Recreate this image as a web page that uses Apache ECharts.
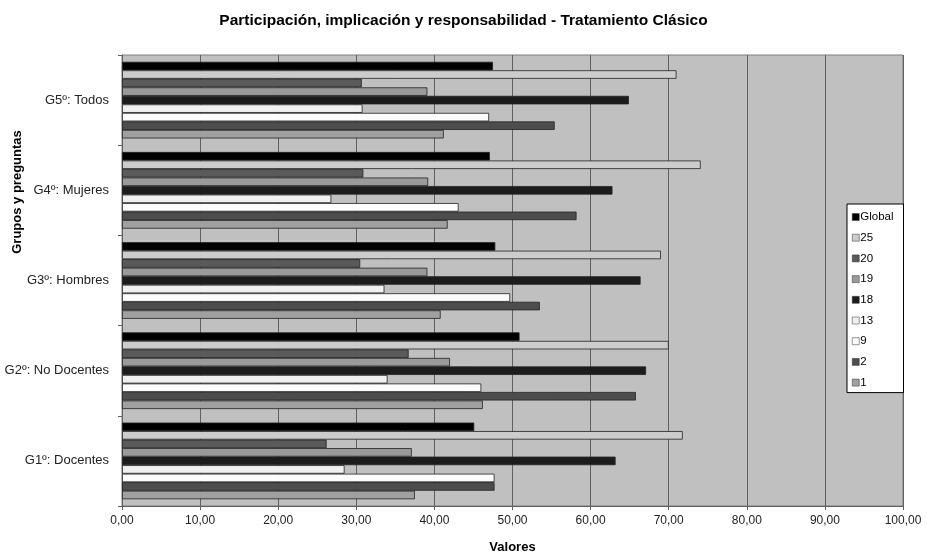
<!DOCTYPE html>
<html>
<head>
<meta charset="utf-8">
<script src="https://cdn.jsdelivr.net/npm/echarts@6/dist/echarts.min.js"></script>
<style>
html,body{margin:0;padding:0;background:#fff;}
#c{width:927px;height:555px;}
</style>
</head>
<body>
<div id="c"></div>
<script>
// Categories (bottom to top)
const categories = ['G1º: Docentes', 'G2º: No Docentes', 'G3º: Hombres', 'G4º: Mujeres', 'G5º: Todos'];
// Series values per category (G1..G5)
const sGlobal = [45.1, 50.9, 47.8, 47.1, 47.5];
const s25 = [71.8, 70.0, 69.0, 74.1, 71.0];
const s20 = [26.2, 36.7, 30.5, 30.9, 30.7];
const s19 = [37.1, 42.0, 39.1, 39.2, 39.1];
const s18 = [63.2, 67.1, 66.4, 62.8, 64.9];
const s13 = [28.5, 34.0, 33.6, 26.8, 30.8];
const s9 = [47.7, 46.0, 49.7, 43.1, 47.0];
const s2 = [47.7, 65.8, 53.5, 58.2, 55.4];
const s1 = [37.5, 46.2, 40.8, 41.7, 41.2];
const xTickLabels = ['0,00','10,00','20,00','30,00','40,00','50,00','60,00','70,00','80,00','90,00','100,00'];
const legendOrder = ['Global','25','20','19','18','13','9','2','1'];

const seriesDefs = [
  {name:'Global', data:sGlobal, color:'#000000'},
  {name:'25', data:s25, color:'#cccccc'},
  {name:'20', data:s20, color:'#5a5a5a'},
  {name:'19', data:s19, color:'#9a9a9a'},
  {name:'18', data:s18, color:'#1c1c1c'},
  {name:'13', data:s13, color:'#f0f0f0'},
  {name:'9', data:s9, color:'#fcfcfc'},
  {name:'2', data:s2, color:'#4d4d4d'},
  {name:'1', data:s1, color:'#a0a0a0'}
];

const chart = echarts.init(document.getElementById('c'), null, {renderer:'canvas'});
const font = 'Liberation Sans, Arial, sans-serif';
chart.setOption({
  animation:false,
  textStyle:{fontFamily:font},
  title:{
    text:'Participación, implicación y responsabilidad - Tratamiento Clásico',
    left:'center', top:8,
    textStyle:{fontFamily:font, fontSize:15.5, fontWeight:'bold', color:'#000'}
  },
  graphic:[{
    type:'text', x:17, y:192, rotation:Math.PI/2,
    style:{text:'Grupos y preguntas', fontFamily:font, fontSize:13, fontWeight:'bold', fill:'#000', align:'center', verticalAlign:'middle'}
  }],
  grid:{left:122, right:24, top:55, bottom:49, show:true, backgroundColor:'#c0c0c0', borderColor:'#808080', borderWidth:1, outerBoundsMode:'none', containLabel:false},
  legend:{
    data:legendOrder,
    orient:'vertical',
    left:847, top:204,
    width:60,
    backgroundColor:'#ffffff',
    borderColor:'#000000',
    borderWidth:1,
    borderRadius:0,
    padding:[7,10,4,5],
    itemWidth:7, itemHeight:7,
    itemGap:8.7,
    icon:'rect',
    itemStyle:{borderWidth:0.5, borderColor:'#333'},
    textStyle:{fontFamily:font, fontSize:11.5, color:'#000', padding:[0,0,0,-4]}
  },
  xAxis:{
    type:'value', min:0, max:100, interval:10,
    name:'Valores', nameLocation:'middle', nameGap:34.5,
    nameTextStyle:{fontFamily:font, fontSize:13, fontWeight:'bold', color:'#000'},
    axisLine:{show:true, lineStyle:{color:'#606060', width:1}},
    axisTick:{show:true, length:4, lineStyle:{color:'#606060'}},
    axisLabel:{fontFamily:font, fontSize:12, color:'#222', margin:9,
      formatter:function(v){ return xTickLabels[Math.round(v/10)]; }},
    splitLine:{show:true, lineStyle:{color:'#606060', width:1}}
  },
  yAxis:{
    type:'category', data:categories,
    axisLine:{show:true, lineStyle:{color:'#606060', width:1}},
    axisTick:{show:true, length:4, lineStyle:{color:'#606060'}},
    axisLabel:{fontFamily:font, fontSize:13, color:'#222', margin:13},
    splitLine:{show:false}
  },
  series: seriesDefs.map(function(s){
    return {
      name:s.name, type:'bar', data:s.data,
      barGap:'0%', barCategoryGap:'15%',
      itemStyle:{color:s.color, borderColor:'#222', borderWidth:0.8},
      emphasis:{disabled:true}
    };
  })
});
</script>
</body>
</html>
